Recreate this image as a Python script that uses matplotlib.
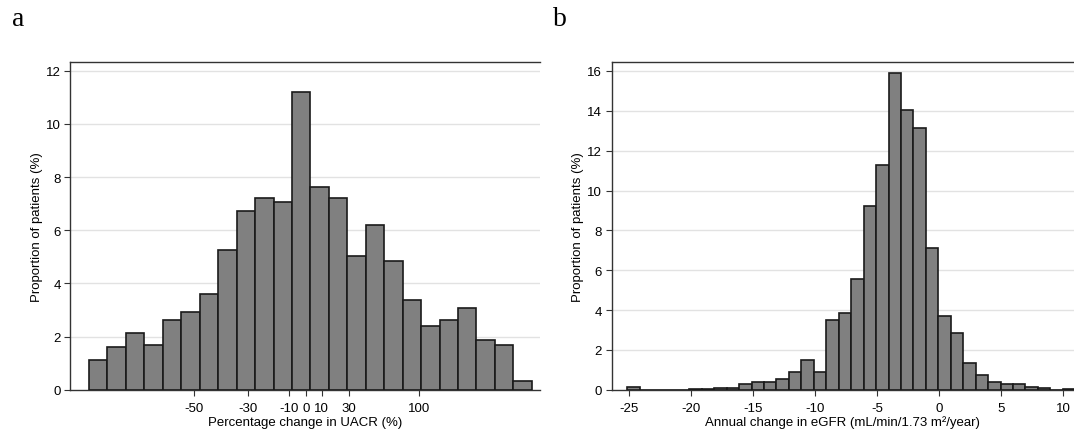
import numpy as np
import matplotlib.pyplot as plt

# panel a: UACR change histogram, bins on log10(follow-up / baseline) scale
uacr_bin_start = -0.5805
uacr_bin_width = 0.0493
uacr_pct = [1.13, 1.59, 2.15, 1.67, 2.61, 2.94, 3.62, 5.26, 6.74, 7.22, 7.08, 11.20,
            7.63, 7.22, 5.05, 6.20, 4.85, 3.36, 2.41, 2.61, 3.08, 1.88, 1.67, 0.31]
uacr_ticks = [-50, -30, -10, 0, 10, 30, 100]

# panel b: annual eGFR change histogram
egfr_bin_start = -25.15
egfr_bin_width = 1.003
egfr_pct = [0.12, 0, 0, 0, 0, 0.03, 0.03, 0.1, 0.1, 0.27, 0.4, 0.4, 0.52, 0.87, 1.5, 0.87,
            3.5, 3.85, 5.55, 9.2, 11.3, 15.9, 14.05, 13.15, 7.1, 3.7, 2.85, 1.35,
            0.72, 0.38, 0.31, 0.31, 0.16, 0.09, 0, 0.04]
egfr_ticks = [-25, -20, -15, -10, -5, 0, 5, 10]

plt.rcParams['font.family'] = ['Liberation Sans', 'DejaVu Sans']
fig = plt.figure(figsize=(10.74, 4.35), dpi=100)

bar_kw = dict(align='edge', color='#808080', edgecolor='#1a1a1a', linewidth=1.2, zorder=3)


def style(ax, ymax, yticks):
    ax.set_ylim(0, ymax)
    ax.set_yticks(yticks)
    for y in yticks[1:]:
        ax.axhline(y, color='#e2e2e2', lw=1, zorder=1)
    ax.spines['right'].set_visible(False)
    for s in ['left', 'top', 'bottom']:
        ax.spines[s].set_color('#333333')
        ax.spines[s].set_linewidth(1.0)
    ax.tick_params(axis='both', direction='out', length=4.5, width=0.8, color='#333333',
                   labelsize=9.5)
    ax.tick_params(axis='y', pad=2.5)
    ax.tick_params(axis='x', pad=4)
    ax.set_ylabel('Proportion of patients (%)', fontsize=9.5, labelpad=2)


ax1 = fig.add_axes([0.0656, 0.1018, 1 - 0.0656 - 0.4972, 0.7538])
edges1 = uacr_bin_start + uacr_bin_width * np.arange(len(uacr_pct))
ax1.bar(edges1, uacr_pct, width=uacr_bin_width, **bar_kw)
ax1.set_xlim(-0.630, 0.6245)
ax1.set_xticks(np.log10(1 + np.array(uacr_ticks) / 100))
ax1.set_xticklabels([str(t) for t in uacr_ticks])
style(ax1, 12.34, [0, 2, 4, 6, 8, 10, 12])
ax1.set_xlabel('Percentage change in UACR (%)', fontsize=9.5, labelpad=1.5)

ax2 = fig.add_axes([0.5696, 0.1018, 1 - 0.5696, 0.7538])
edges2 = egfr_bin_start + egfr_bin_width * np.arange(len(egfr_pct))
ax2.bar(edges2, egfr_pct, width=egfr_bin_width, **bar_kw)
ax2.set_xlim(-26.39, 10.86)
ax2.set_xticks(egfr_ticks)
ax2.set_xticklabels([str(t) for t in egfr_ticks])
style(ax2, 16.46, [0, 2, 4, 6, 8, 10, 12, 14, 16])
ax2.set_xlabel('Annual change in eGFR (mL/min/1.73 m\u00b2/year)', fontsize=9.5, labelpad=1.5)

serif = ['Liberation Serif', 'DejaVu Serif']
fig.text(0.011, 0.940, 'a', family=serif, fontsize=20, va='baseline')
fig.text(0.515, 0.940, 'b', family=serif, fontsize=20, va='baseline')

fig.savefig('out.png', dpi=100)
